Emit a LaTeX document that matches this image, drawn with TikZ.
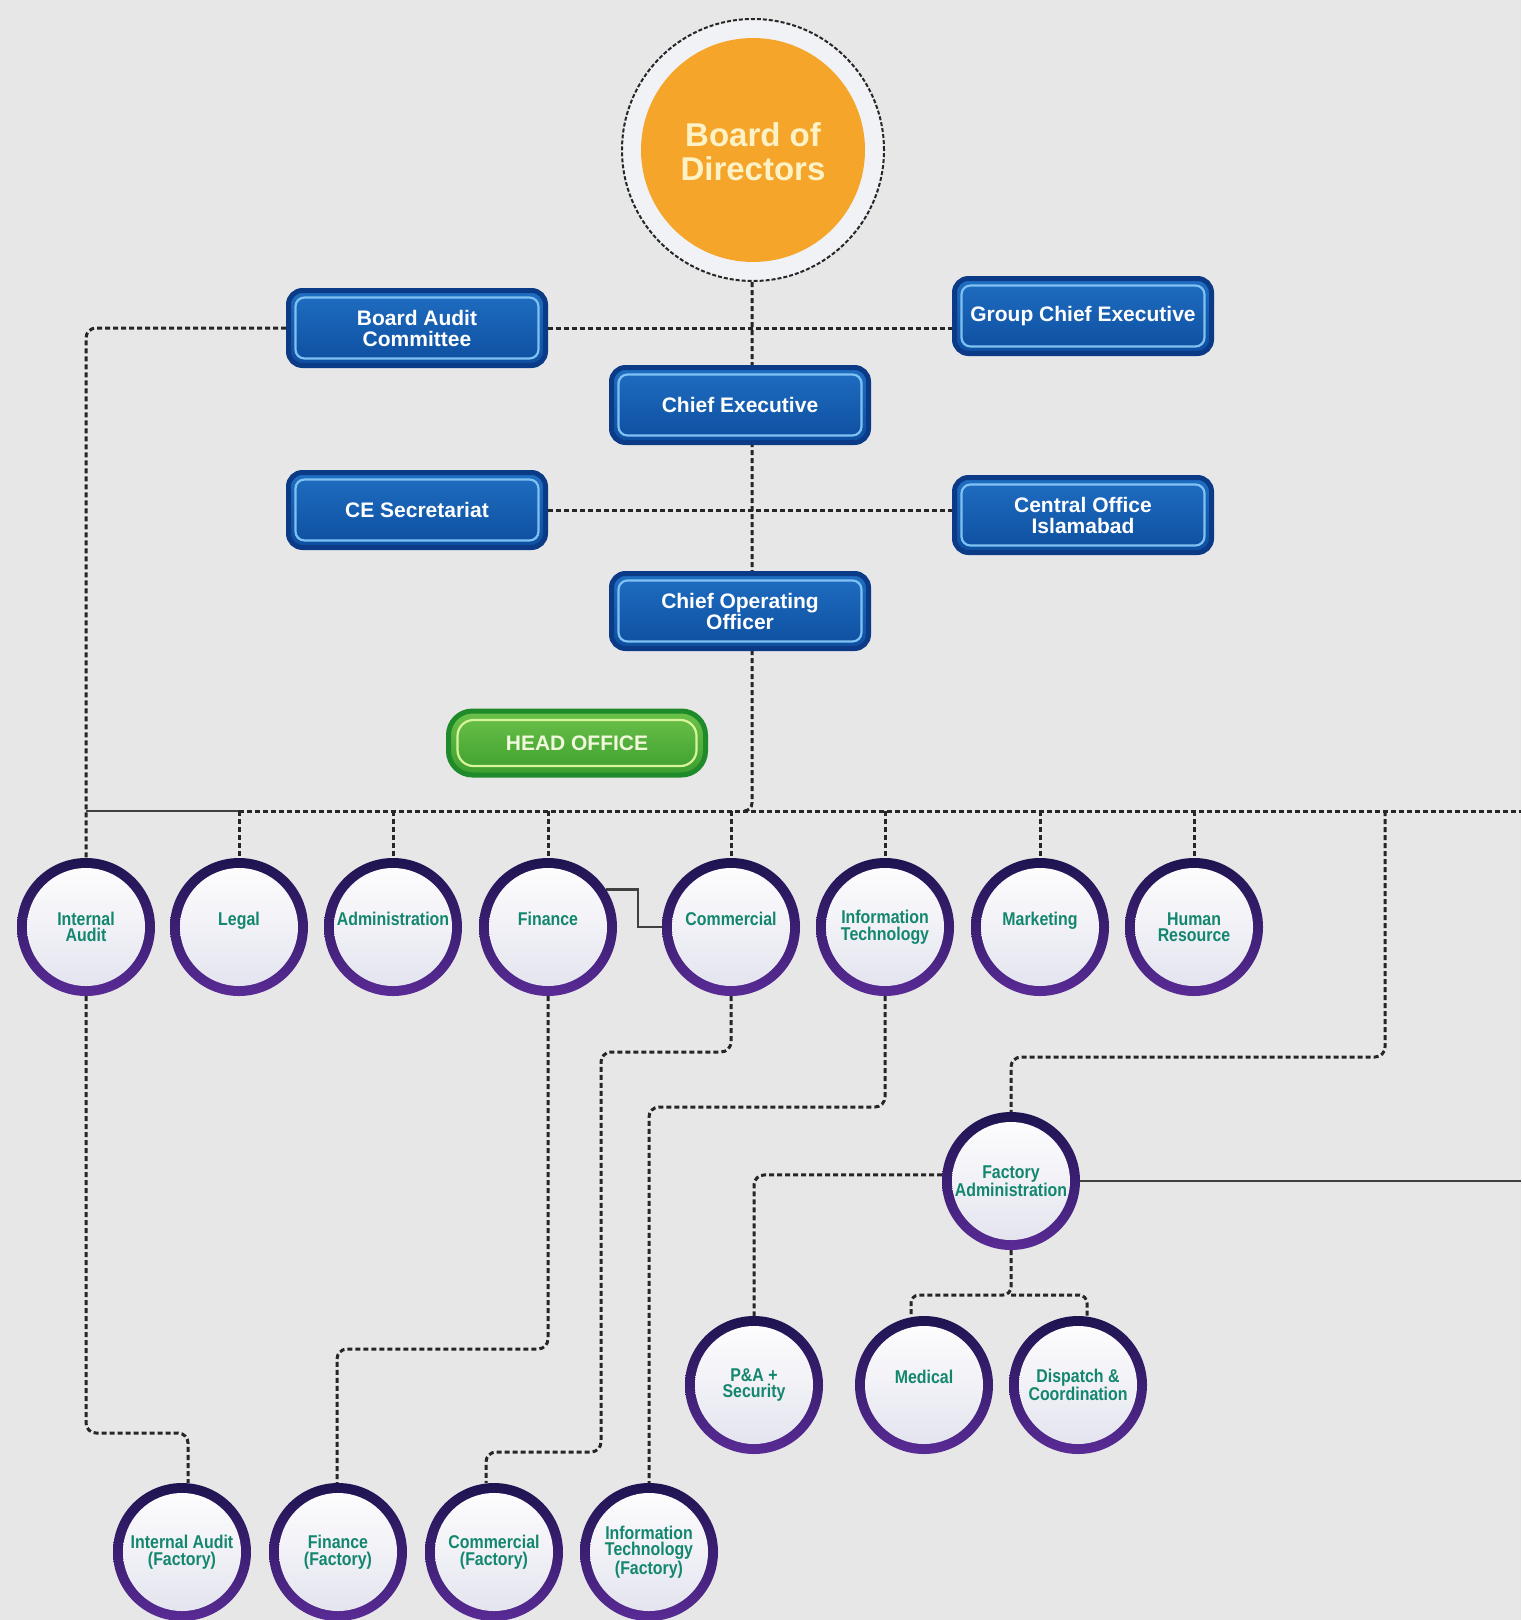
\documentclass[tikz,border=0pt]{standalone}
\usepackage{fontspec}
\setmainfont{Liberation Sans}
\newfontfamily\condfont[FakeStretch=0.86]{Liberation Sans}
\usetikzlibrary{calc}
\definecolor{bgc}{HTML}{E7E7E7}
\definecolor{lc}{HTML}{262626}
\definecolor{sc}{HTML}{404040}
\definecolor{orng}{HTML}{F5A62A}
\definecolor{cream}{HTML}{FDF1C6}
\definecolor{hotext}{HTML}{F2F8DC}
\definecolor{bdark}{HTML}{0B3B87}
\definecolor{btop}{HTML}{1F6EC2}
\definecolor{bbot}{HTML}{0E4E9F}
\definecolor{blight}{HTML}{7FC2F2}
\definecolor{gdark}{HTML}{1F8A2A}
\definecolor{gtop}{HTML}{6CC24A}
\definecolor{gbot}{HTML}{3C9E2E}
\definecolor{glight}{HTML}{D8F59C}
\definecolor{ringtop}{HTML}{1E1450}
\definecolor{ringbot}{HTML}{5A2B96}
\definecolor{cfill}{HTML}{E2E2EE}
\definecolor{tealtext}{HTML}{13866E}
\definecolor{ringbg}{HTML}{F0F2F5}
\pgfdeclarelayer{back}
\pgfdeclarelayer{lines}
\pgfsetlayers{back,lines,main}
\tikzset{
  dsh/.style={draw=lc, line width=3pt, dash pattern=on 5pt off 3pt},
  sol/.style={draw=sc, line width=2.4pt},
  bluebox/.style={rounded corners=14pt, draw=bdark, line width=5pt,
    top color=btop, bottom color=bbot, minimum width=257pt, minimum height=75pt,
    inner sep=0pt, text=white, align=center,
    font=\bfseries\fontsize{21}{21}\selectfont,
    path picture={\draw[blight, line width=2.2pt, rounded corners=9pt]
      ([shift={(7pt,7pt)}]path picture bounding box.south west) rectangle
      ([shift={(-7pt,-7pt)}]path picture bounding box.north east);}},
  greenbox/.style={rounded corners=24pt, draw=gdark, line width=5pt,
    top color=gtop, bottom color=gbot, minimum width=257pt, minimum height=64pt,
    inner sep=0pt, text=hotext, align=center,
    font=\bfseries\fontsize{21}{21}\selectfont,
    path picture={\draw[glight, line width=2.2pt, rounded corners=16pt]
      ([shift={(9pt,9pt)}]path picture bounding box.south west) rectangle
      ([shift={(-9pt,-9pt)}]path picture bounding box.north east);}},
  orgc/.style={circle, minimum size=138pt, inner sep=0pt, draw=none,
    top color=ringtop, bottom color=ringbot, text=tealtext, align=center,
    font=\condfont\bfseries\fontsize{18.5}{16.5}\selectfont,
    path picture={\shade[top color=white, bottom color=cfill]
      (path picture bounding box.center) circle[radius=59pt];}},
  bodring/.style={circle, minimum size=262pt, inner sep=0pt, fill=ringbg,
    draw=lc, line width=2pt, dash pattern=on 4pt off 2pt},
  bodc/.style={circle, minimum size=224pt, inner sep=0pt, fill=orng,
    text=cream, font=\bfseries\fontsize{33}{34}\selectfont},
}
\newcommand{\oneline}[1]{\raisebox{2pt}[0pt][0pt]{#1}}
\begin{document}
\begin{tikzpicture}[x=1pt,y=-1pt]
\begin{pgfonlayer}{back}
\fill[bgc] (0,0) rectangle (1521,1620);
\end{pgfonlayer}
\useasboundingbox (0,0) rectangle (1521,1620);

% top part
\node[bodring] (ring) at (753,150) {};
\node[bodc] (bod) at (753,150) {\raisebox{-13pt}[0pt][0pt]{\begin{tabular}{@{}c@{}}Board of\\Directors\end{tabular}}};
\node[bluebox] (bac) at (417,328) {Board Audit\\Committee};
\node[bluebox] (gce) at (1083,316) {Group Chief Executive};
\node[bluebox] (ce) at (740,405) {Chief Executive};
\node[bluebox] (ces) at (417,510) {CE Secretariat};
\node[bluebox] (coi) at (1083,515) {Central Office\\Islamabad};
\node[bluebox] (coo) at (740,611) {Chief Operating\\Officer};
\node[greenbox] (ho) at (577,743) {HEAD OFFICE};

% departments
\node[orgc] (ia) at (86,927) {Internal\\Audit};
\node[orgc] (lg) at (239,927) {\oneline{Legal}};
\node[orgc] (ad) at (393,927) {\oneline{Administration}};
\node[orgc] (fi) at (548,927) {\oneline{Finance}};
\node[orgc] (cm) at (731,927) {\oneline{Commercial}};
\node[orgc] (it) at (885,927) {Information\\Technology};
\node[orgc] (mk) at (1040,927) {\oneline{Marketing}};
\node[orgc] (hr) at (1194,927) {Human\\Resource};

\node[orgc] (fa) at (1011,1181) {Factory\\Administration};
\node[orgc] (pa) at (754,1385) {P\&A +\\Security};
\node[orgc] (md) at (924,1385) {\oneline{Medical}};
\node[orgc] (dc) at (1078,1385) {Dispatch \&\\Coordination};

\node[orgc] (iaf) at (182,1552) {Internal Audit\\(Factory)};
\node[orgc] (ff) at (338,1552) {Finance\\(Factory)};
\node[orgc] (cf) at (494,1552) {Commercial\\(Factory)};
\node[orgc] (itf) at (649,1552) {Information\\Technology\\(Factory)};

% helper coordinates
\coordinate (trunkbot) at (752,811);
\coordinate (rowR) at (1521,811);
\coordinate (faT) at (1385,811);
\coordinate (faJ) at (1385,1057);
\coordinate (fjn) at (1011,1295);
\coordinate (iaJ) at (188,1433);
\coordinate (fiJ) at (337,1349);
\coordinate (cmJ1) at (601,1052);
\coordinate (cmJ2) at (486,1452);
\coordinate (itJ) at (649,1107);

\begin{pgfonlayer}{lines}
\draw[dsh, rounded corners=8pt] (ring.south -| trunkbot) -- (trunkbot) -- ++(-10pt,0pt);
\draw[dsh] (bac.east) -- (bac.east -| gce.west);
\draw[dsh, rounded corners=10pt] (bac.west) -| (ia.north);
\draw[dsh] (ces.east) -- (ces.east -| coi.west);
\draw[sol] (ia.north |- trunkbot) -- (lg.north |- trunkbot);
\draw[dsh] (lg.north |- trunkbot) -- (rowR);
\foreach \n in {lg,ad,fi,cm,it,mk,hr} \draw[dsh] (\n.north |- trunkbot) -- (\n.north);
\draw[sol] (fi.33) -- ++(32pt,0pt) |- (cm.west);
\draw[dsh, rounded corners=10pt] (faT) -- (faJ) -| (fa.north);
\draw[sol] (fa.east) -- (fa.east -| rowR);
\draw[dsh, rounded corners=10pt] (fa.175) -| (pa.north);
\draw[dsh, rounded corners=8pt] (fa.south) -- (fjn) -| ($(md.north)+(-13,0)$);
\draw[dsh, rounded corners=8pt] (fjn) -| ($(dc.north)+(9,0)$);
\draw[dsh, rounded corners=10pt] (ia.south) |- (iaJ) -- (iaJ |- iaf.north);
\draw[dsh, rounded corners=10pt] (fi.south) |- (fiJ) -- (fiJ |- ff.north);
\draw[dsh, rounded corners=10pt] (cm.south) |- (cmJ1) |- (cmJ2) -- (cmJ2 |- cf.north);
\draw[dsh, rounded corners=10pt] (it.south) |- (itJ) -- (itJ |- itf.north);
\end{pgfonlayer}
\end{tikzpicture}
\end{document}
